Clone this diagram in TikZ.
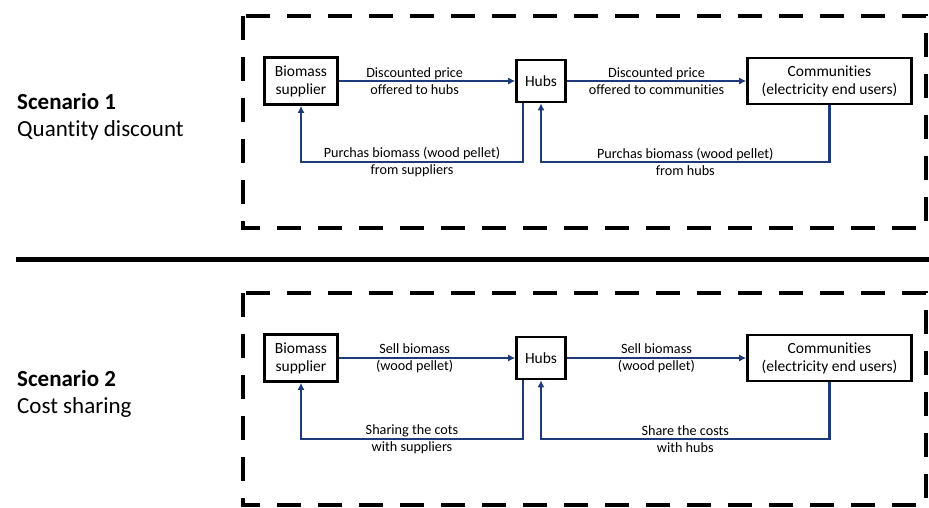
\documentclass[tikz,border=0pt]{standalone}
\usepackage{fontspec}
\setmainfont{Carlito}[Ligatures=NoCommon]
\usetikzlibrary{arrows.meta}

\begin{document}
\begin{tikzpicture}[x=1pt,y=-1pt]
        % Cores
        \definecolor{flowblue}{HTML}{1F3A7A}
        \tikzset{
            actor/.style={draw, line width=2.6pt, align=center, inner sep=0pt,
                font=\fontsize{15.5}{18}\selectfont},
            flow/.style={flowblue, line width=2.2pt, -{Latex[length=7pt,width=7pt]}},
            flowlabel/.style={text=black, align=center, inner sep=0pt, font=\fontsize{14.2}{16.5}\selectfont},
            frame/.style={line width=4pt, dash pattern=on 24pt off 17pt},
            scenario/.style={anchor=west, align=left, inner sep=0pt, font=\fontsize{23}{26.5}\selectfont}
        }
        \useasboundingbox (0,0) rectangle (929,507);

        % Dados: {deslocamento/titulo/subtitulo/setas de cima/setas de baixo}
        \foreach \dy/\heading/\sub/\priceA/\priceB/\backA/\backB [count=\i] in {
            0/{Scenario 1}/{Quantity discount}/{Discounted price\\offered to hubs}/{Discounted price\\offered to communities}/{Purchas biomass (wood pellet)\\from suppliers}/{Purchas biomass (wood pellet)\\from hubs},
            277/{Scenario 2}/{Cost sharing}/{Sell biomass\\(wood pellet)}/{Sell biomass\\(wood pellet)}/{Sharing the cots\\with suppliers}/{Share the costs\\with hubs}} {

            % Moldura tracejada
            \draw[frame] (243,16+\dy) rectangle (926,228+\dy);

            % Titulo do cenario
            \node[scenario] (scen\i) at (17,117+\dy) {\textbf{\heading}\\\sub};

            % Atores
            \node[actor, minimum width=73pt, minimum height=47pt] (bio\i) at (301,81+\dy) {Biomass\\supplier};
            \node[actor, minimum width=49pt, minimum height=42pt] (hub\i) at (541,81+\dy) {Hubs};
            \node[actor, minimum width=164pt, minimum height=46pt] (com\i) at (829.5,81+\dy) {Communities\\(electricity end users)};
            \coordinate (loop\i) at (0,162+\dy);

            % Fluxos de cima
            \draw[flow] (bio\i) -- node[flowlabel, pos=0.43] {\priceA} (hub\i);
            \draw[flow] (hub\i) -- node[flowlabel] {\priceB} (com\i);

            % Fluxos de retorno
            \draw[flow] ([xshift=-18pt]hub\i.south) |- node[flowlabel, pos=0.75] {\backA} (loop\i -| bio\i.south) -- (bio\i.south);
            \draw[flow] (com\i.south) |- node[flowlabel, pos=0.75] {\backB} (loop\i -| hub\i.south) -- (hub\i.south);
        }

        % Linha divisoria
        \draw[line width=5pt] (16,259) -- (929,259);
    \end{tikzpicture}
\end{document}
